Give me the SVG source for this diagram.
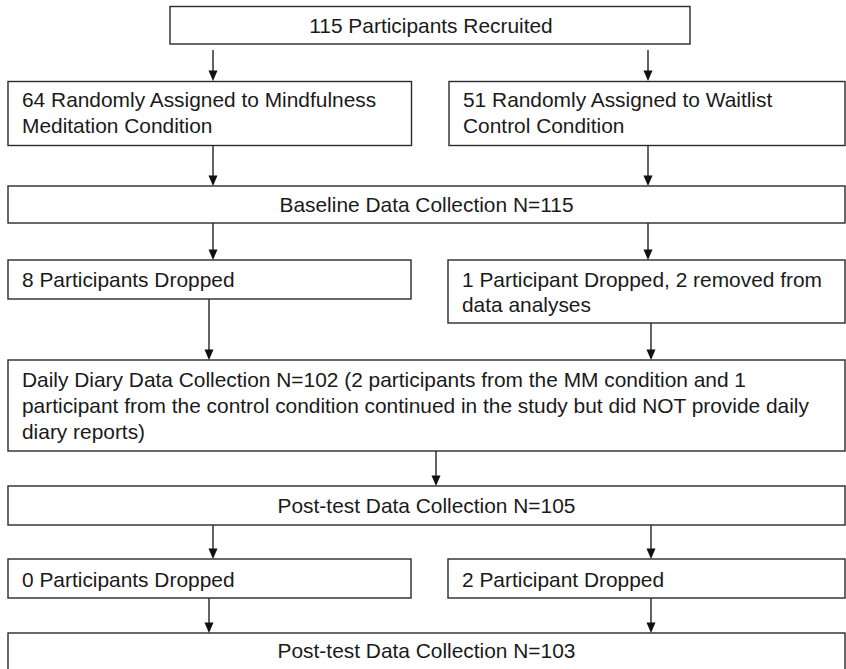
<svg xmlns="http://www.w3.org/2000/svg" width="846" height="669" viewBox="0 0 846 669">
<defs>
<style>
.box{fill:#fff;stroke:#2a2a2a;stroke-width:1.4}
.t{font-family:"Liberation Sans",Arial,sans-serif;font-size:20.9px;fill:#1a1a1a}
.c{text-anchor:middle}
.e{stroke:#111;stroke-width:1.3;fill:none}
</style>
</defs>
<rect width="846" height="669" fill="#fff"/>
<g id="connectors">
<line class="e" x1="213" y1="50" x2="213" y2="72"/>
<line class="e" x1="648" y1="50" x2="648" y2="72"/>
<line class="e" x1="213" y1="146" x2="213" y2="177"/>
<line class="e" x1="648" y1="146" x2="648" y2="177"/>
<line class="e" x1="213" y1="223" x2="213" y2="251"/>
<line class="e" x1="648" y1="223" x2="648" y2="251"/>
<line class="e" x1="209" y1="299" x2="209" y2="351"/>
<line class="e" x1="651" y1="323" x2="651" y2="351"/>
<line class="e" x1="436" y1="451" x2="436" y2="477"/>
<line class="e" x1="213" y1="525" x2="213" y2="550"/>
<line class="e" x1="651" y1="525" x2="651" y2="550"/>
<line class="e" x1="209" y1="598" x2="209" y2="624"/>
<line class="e" x1="651" y1="598" x2="651" y2="624"/>
<g id="arrowheads" fill="#111">
<path d="M208.5,70.5 L217.5,70.5 L213,81 Z"/>
<path d="M643.5,70.5 L652.5,70.5 L648,81 Z"/>
<path d="M208.5,175.5 L217.5,175.5 L213,186 Z"/>
<path d="M643.5,175.5 L652.5,175.5 L648,186 Z"/>
<path d="M208.5,249.5 L217.5,249.5 L213,260 Z"/>
<path d="M643.5,249.5 L652.5,249.5 L648,260 Z"/>
<path d="M204.5,349.5 L213.5,349.5 L209,360 Z"/>
<path d="M646.5,349.5 L655.5,349.5 L651,360 Z"/>
<path d="M431.5,475.5 L440.5,475.5 L436,486 Z"/>
<path d="M208.5,548.5 L217.5,548.5 L213,559 Z"/>
<path d="M646.5,548.5 L655.5,548.5 L651,559 Z"/>
<path d="M204.5,622.5 L213.5,622.5 L209,633 Z"/>
<path d="M646.5,622.5 L655.5,622.5 L651,633 Z"/>
</g>
</g>
<g id="recruited"><rect class="box" x="170" y="6.5" width="520" height="37.5"/><text class="t c" x="431" y="33">115 Participants Recruited</text></g>
<g id="mm-assigned"><rect class="box" x="8" y="81.5" width="403.5" height="64"/><text class="t" x="22" y="107">64 Randomly Assigned to Mindfulness</text><text class="t" x="22" y="132.5">Meditation Condition</text></g>
<g id="wl-assigned"><rect class="box" x="449" y="81.5" width="396" height="64"/><text class="t" x="463" y="107">51 Randomly Assigned to Waitlist</text><text class="t" x="463" y="132.5">Control Condition</text></g>
<g id="baseline"><rect class="box" x="8" y="186" width="837" height="37"/><text class="t c" x="426.5" y="211.5">Baseline Data Collection N=115</text></g>
<g id="mm-dropped"><rect class="box" x="8" y="260" width="403" height="39"/><text class="t" x="22" y="286.5">8 Participants Dropped</text></g>
<g id="wl-dropped"><rect class="box" x="448" y="260" width="397" height="63"/><text class="t" x="462" y="286.5">1 Participant Dropped, 2 removed from</text><text class="t" x="462" y="311.5">data analyses</text></g>
<g id="diary"><rect class="box" x="8" y="360" width="837" height="91"/><text class="t" x="22" y="387">Daily Diary Data Collection N=102 (2 participants from the MM condition and 1</text><text class="t" x="22" y="413">participant from the control condition continued in the study but did NOT provide daily</text><text class="t" x="22" y="438.5">diary reports)</text></g>
<g id="posttest105"><rect class="box" x="8" y="486" width="837" height="39"/><text class="t c" x="426.5" y="513">Post-test Data Collection N=105</text></g>
<g id="mm-dropped2"><rect class="box" x="8" y="559" width="403" height="39"/><text class="t" x="22" y="586.5">0 Participants Dropped</text></g>
<g id="wl-dropped2"><rect class="box" x="448" y="559" width="397" height="39"/><text class="t" x="462" y="586.5">2 Participant Dropped</text></g>
<g id="posttest103"><rect class="box" x="8" y="633" width="837" height="42"/><text class="t c" x="426.5" y="658">Post-test Data Collection N=103</text></g>
</svg>
